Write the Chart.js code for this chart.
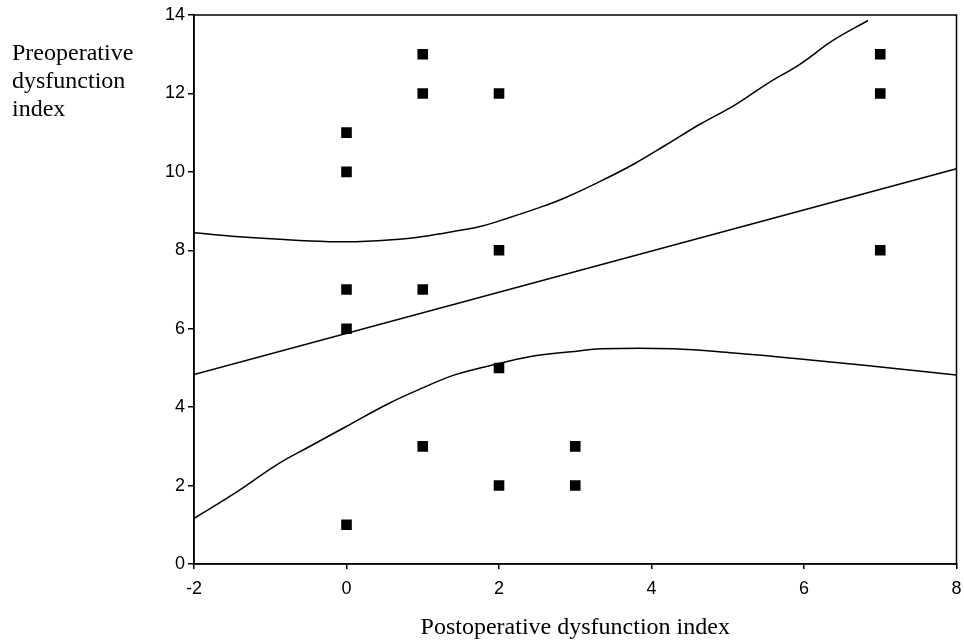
<!DOCTYPE html>
<html>
<head>
<meta charset="utf-8">
<script src="https://cdn.jsdelivr.net/npm/chart.js@4"></script>
<style>
  body { margin: 0; background: #fff; }
  #wrap { position: relative; width: 964px; height: 643px; }
  #ytitle {
    position: absolute; left: 12px; top: 38px;
    font-family: 'Liberation Serif', 'Times New Roman', serif;
    font-size: 24px; line-height: 28px; color: #000;
  }
</style>
</head>
<body>
<div id="wrap">
  <canvas id="chart" width="964" height="643"></canvas>
  <div id="ytitle">Preoperative<br>dysfunction<br>index</div>
</div>
<script>
// 数据点：术后 / 术前功能障碍指数
const postopIdx = [0, 0, 0, 0, 0, 1, 1, 1, 1, 2, 2, 2, 2, 3, 3, 7, 7, 7];
const preopIdx = [11, 10, 7, 6, 1, 13, 12, 7, 3, 12, 8, 5, 2, 3, 2, 13, 12, 8];

// 回归直线两端
const fitX = [-2, 8];
const fitY = [4.83, 10.08];

// 置信带
const upperX = [-2, -1.5, -0.87, -0.23, 0.12, 0.69, 1.0, 1.43, 1.78, 2.13, 2.47, 2.82, 3.34, 3.77, 4.21, 4.64, 5.08, 5.51, 5.95, 6.38, 6.84];
const upperY = [8.45, 8.36, 8.28, 8.22, 8.22, 8.28, 8.35, 8.49, 8.62, 8.83, 9.05, 9.30, 9.77, 10.20, 10.71, 11.22, 11.69, 12.24, 12.75, 13.35, 13.86];
const lowerX = [-2, -1.5, -0.88, -0.49, -0.01, 0.56, 1.0, 1.43, 2.04, 2.47, 2.99, 3.34, 4.29, 5.08, 5.95, 6.82, 8];
const lowerY = [1.16, 1.76, 2.57, 2.99, 3.50, 4.10, 4.49, 4.83, 5.13, 5.31, 5.42, 5.49, 5.49, 5.38, 5.23, 5.06, 4.82];

// 坐标轴刻度
const xTicks = [-2, 0, 2, 4, 6, 8];
const yTicks = [0, 2, 4, 6, 8, 10, 12, 14];

const pairs = (xs, ys) => xs.map((x, i) => ({ x: x, y: ys[i] }));

const lineSet = (xs, ys, tension) => ({
  data: pairs(xs, ys),
  showLine: true,
  borderColor: '#000',
  borderWidth: 1.5,
  pointRadius: 0,
  tension: tension,
  fill: false
});

// 图表区外框
const frame = {
  id: 'frame',
  afterDatasetsDraw(chart) {
    const a = chart.chartArea;
    const ctx = chart.ctx;
    ctx.save();
    ctx.strokeStyle = '#000';
    ctx.lineWidth = 1.5;
    ctx.strokeRect(a.left, a.top, a.right - a.left, a.bottom - a.top);
    ctx.restore();
  }
};

const tickFont = { family: "'Liberation Sans', Arial, sans-serif", size: 18 };

new Chart(document.getElementById('chart'), {
  type: 'scatter',
  data: {
    datasets: [
      {
        data: pairs(postopIdx, preopIdx),
        pointStyle: 'rect',
        pointRadius: 7.5,
        backgroundColor: '#000',
        borderColor: '#000',
        borderWidth: 0
      },
      lineSet(fitX, fitY, 0),
      lineSet(upperX, upperY, 0.4),
      lineSet(lowerX, lowerY, 0.4)
    ]
  },
  plugins: [frame],
  options: {
    responsive: false,
    animation: false,
    layout: { padding: { top: 15, right: 6, left: 0, bottom: 0 } },
    plugins: { legend: { display: false }, tooltip: { enabled: false } },
    scales: {
      x: {
        type: 'linear',
        min: -2,
        max: 8,
        afterBuildTicks: s => { s.ticks = xTicks.map(v => ({ value: v })); },
        afterFit: s => { s.height = 79; s.paddingRight = 0; s.paddingLeft = 0; },
        grid: { drawOnChartArea: false, color: '#000', tickLength: 5, lineWidth: 1.5 },
        border: { color: '#000', width: 1.5 },
        ticks: { color: '#000', font: tickFont, padding: 9, maxRotation: 0 },
        title: {
          display: true,
          text: 'Postoperative dysfunction index',
          color: '#000',
          font: { family: "'Liberation Serif', 'Times New Roman', serif", size: 24 },
          padding: { top: 0, bottom: 1 }
        }
      },
      y: {
        type: 'linear',
        min: 0,
        max: 14,
        afterBuildTicks: s => { s.ticks = yTicks.map(v => ({ value: v })); },
        afterFit: s => { s.width = 194; s.paddingTop = 0; s.paddingBottom = 0; },
        grid: { drawOnChartArea: false, color: '#000', tickLength: 6, lineWidth: 1.5 },
        border: { color: '#000', width: 1.5 },
        ticks: { color: '#000', font: tickFont, padding: 3 }
      }
    }
  }
});
</script>
</body>
</html>
